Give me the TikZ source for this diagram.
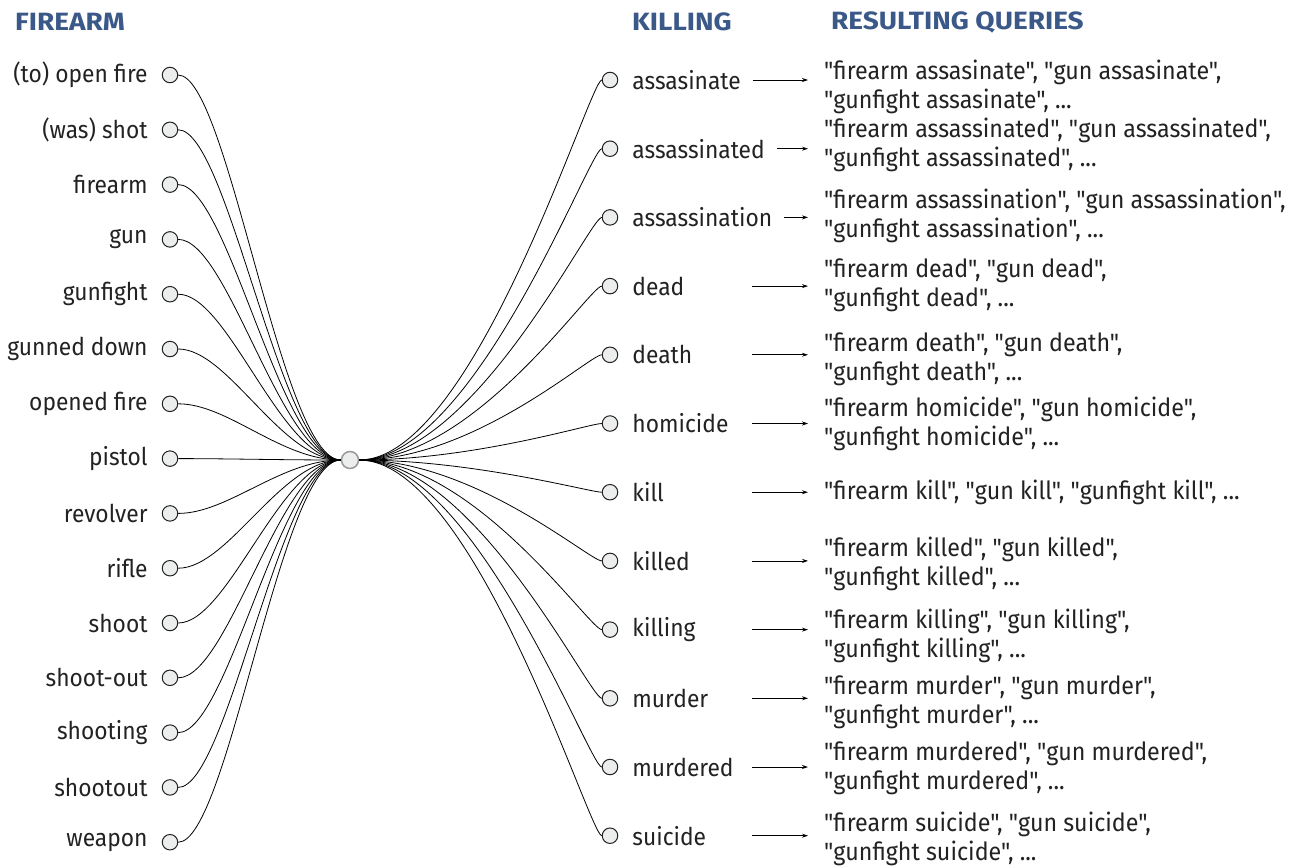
\documentclass[tikz,border=0pt]{standalone}
\usepackage{fontspec}
\setmainfont{Fira Sans}
\newfontfamily\wordfont[FakeStretch=0.93]{Fira Sans}
\newfontfamily\queryfont[FakeStretch=0.93]{Fira Sans}
\newfontfamily\headfont[FakeStretch=1.12]{Fira Sans}
\definecolor{headblue}{RGB}{58, 88, 136}
\definecolor{textgray}{RGB}{34, 34, 34}
\definecolor{dotfill}{RGB}{236, 237, 237}
\usetikzlibrary{arrows.meta, calc}

\begin{document}
\begin{tikzpicture}[x=1pt, y=-1pt,
  header/.style={anchor=west, inner sep=0pt, text=headblue, font=\headfont\fontsize{25}{30}\selectfont\bfseries},
  dot/.style={circle, draw=textgray, fill=dotfill, line width=1pt, minimum size=15.5pt, inner sep=0pt},
  hubdot/.style={circle, draw=black!40, fill=dotfill, line width=1.5pt, minimum size=17pt, inner sep=0pt},
  word/.style={inner sep=0pt, text=textgray, font=\wordfont\fontsize{24.5}{28}\selectfont},
  query/.style={anchor=west, inner sep=0pt, align=left, text=textgray, font=\queryfont\fontsize{25}{29}\selectfont},
  link/.style={line width=0.8pt, black},
  qarrow/.style={line width=0.8pt, black, -{Stealth[length=6pt, width=4pt]}}]
  \useasboundingbox (0,0) rectangle (1314,865);

  % column headers
  \node[header] (hfirearm) at (15,22) {FIREARM};
  \node[header] (hkilling) at (632,22) {KILLING};
  \node[header] (hqueries) at (831,22) {RESULTING QUERIES};

  % centre
  \node[hubdot] (hub) at (350,460) {};

  % firearm terms
  \foreach \w [count=\i] in {(to) open fire, (was) shot, firearm, gun, gunfight, gunned down, opened fire,
      pistol, revolver, rifle, shoot, shoot-out, shooting, shootout, weapon} {
    \node[dot, label={[word, label distance=14pt]left:\w}] (f\i) at (170, {75+(\i-1)*54.8}) {};
    \draw[link] (f\i.east) .. controls +(50,0) and +(-60,0) .. (hub.west);
  }

  % killing terms and their queries
  \foreach \w/\qy/\q [count=\i] in {
      assasinate/87/{"firearm assasinate", "gun assasinate",\\"gunfight assasinate", ...},
      assassinated/145/{"firearm assassinated", "gun assassinated",\\"gunfight assassinated", ...},
      assassination/216/{"firearm assassination", "gun assassination",\\"gunfight assassination", ...},
      dead/285/{"firearm dead", "gun dead",\\"gunfight dead", ...},
      death/359/{"firearm death", "gun death",\\"gunfight death", ...},
      homicide/424/{"firearm homicide", "gun homicide",\\"gunfight homicide", ...},
      kill/492/{"firearm kill", "gun kill", "gunfight kill", ...},
      killed/564/{"firearm killed", "gun killed",\\"gunfight killed", ...},
      killing/636/{"firearm killing", "gun killing",\\"gunfight killing", ...},
      murder/702/{"firearm murder", "gun murder",\\"gunfight murder", ...},
      murdered/768/{"firearm murdered", "gun murdered",\\"gunfight murdered", ...},
      suicide/839/{"firearm suicide", "gun suicide",\\"gunfight suicide", ...}} {
    \node[dot, label={[word, name=kt\i, label distance=14pt]right:\w}] (k\i) at (610, {80+(\i-1)*68.7}) {};
    \draw[link] (hub.east) .. controls +(115,0) and +(-12,0) .. (k\i.west);
    \node[query] (q\i) at (824, \qy) {\q};
    \coordinate (s\i) at (752, {80+(\i-1)*68.7});
  }

  % arrows to the queries
  \foreach \i in {1,2,3}
    \draw[qarrow] ($(kt\i.east)+(12,0)$) -- ($(k\i -| q\i.west)+(-16,0)$);
  \foreach \i in {4,...,12}
    \draw[qarrow] (s\i) -- ($(s\i -| q\i.west)+(-16,0)$);
\end{tikzpicture}
\end{document}
